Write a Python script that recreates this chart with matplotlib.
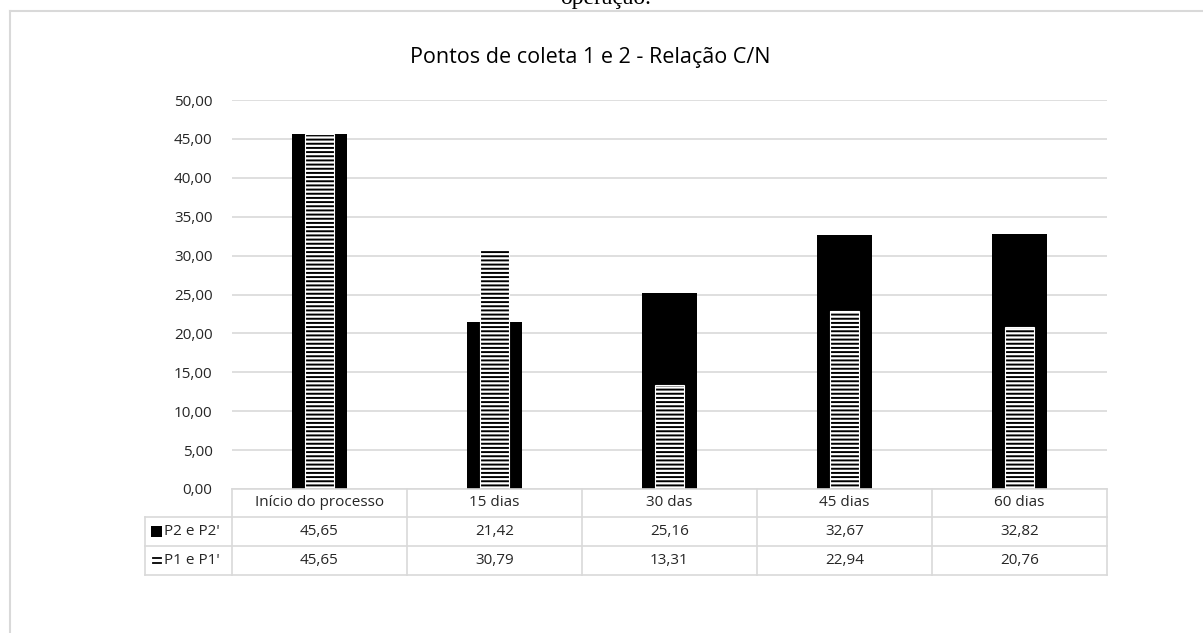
import matplotlib as mpl
import matplotlib.pyplot as plt
from matplotlib.patches import Rectangle
from matplotlib.lines import Line2D
import numpy as np

categorias = ['Início do processo', '15 dias', '30 das', '45 dias', '60 dias']
p2 = [45.65, 21.42, 25.16, 32.67, 32.82]
p1 = [45.65, 30.79, 13.31, 22.94, 20.76]
serie_p2 = "P2 e P2'"
serie_p1 = "P1 e P1'"
titulo = 'Pontos de coleta 1 e 2 - Relação C/N'
yticks = np.arange(0, 51, 5)

plt.rcParams['font.family'] = ['Open Sans', 'DejaVu Sans']
plt.rcParams['hatch.linewidth'] = 1.4
W, H = 1203, 633
GRID = '#d9d9d9'
TXT = '#262626'
FS = 11

fig = plt.figure(figsize=(W / 100, H / 100), dpi=100)

def fx(px):
  return px / W

def fy(py):
  return 1 - py / H

# axes: x 232..1107, y 100..489
ax = fig.add_axes([fx(232), fy(489), fx(1107) - fx(232), fy(100) - fy(489)])
x = np.arange(len(categorias))
ax.bar(x, p2, width=0.31, color='black', zorder=2)
ax.bar(x, p1, width=0.17, color='white', edgecolor='black', linewidth=0,
       hatch='----', zorder=3)
ax.bar(x, p1, width=0.17, fill=False, edgecolor='white', linewidth=0.8, zorder=4)

ax.set_xlim(-0.5, len(categorias) - 0.5)
ax.set_ylim(0, 50)
ax.set_yticks(yticks)
ax.set_yticklabels([f'{v:.2f}'.replace('.', ',') for v in yticks], color=TXT, fontsize=FS)
ax.set_xticks([])
ax.tick_params(axis='y', length=0, pad=14)
ax.grid(axis='y', color=GRID, linewidth=1.2, zorder=0)
for s in ax.spines.values():
  s.set_visible(False)

# outer chart frame and caption remnant
fig.add_artist(Line2D([fx(10), 1], [fy(11), fy(11)], color=GRID, lw=1.5))
fig.add_artist(Line2D([fx(10), fx(10)], [fy(11), 0], color=GRID, lw=1.5))
fig.text(0.503, fy(9), 'operação.', family='Liberation Serif', fontsize=17,
         ha='center', va='bottom', color='black')

fig.text(fx(590), fy(58), titulo, ha='center', va='center', fontsize=15.5, color='black')

# data table
rows = [489, 517, 546, 575]
bounds = [232 + 175 * i for i in range(len(categorias) + 1)]
for r in rows:
  x0 = 232 if r == 489 else 145
  fig.add_artist(Line2D([fx(x0), fx(1107)], [fy(r), fy(r)], color=GRID, lw=1.2))
for b in bounds:
  fig.add_artist(Line2D([fx(b), fx(b)], [fy(489), fy(575)], color=GRID, lw=1.2))
fig.add_artist(Line2D([fx(145), fx(145)], [fy(517), fy(575)], color=GRID, lw=1.2))

for i, cat in enumerate(categorias):
  cx = fx(bounds[i] + 87.5)
  fig.text(cx, fy(503), cat, ha='center', va='center', fontsize=FS, color=TXT)
  fig.text(cx, fy(531.5), f'{p2[i]:.2f}'.replace('.', ','), ha='center', va='center',
           fontsize=FS, color=TXT)
  fig.text(cx, fy(560.5), f'{p1[i]:.2f}'.replace('.', ','), ha='center', va='center',
           fontsize=FS, color=TXT)

# legend keys: solid square and a small striped ("=") key
fig.add_artist(Rectangle((fx(151), fy(537)), fx(11), fy(526) - fy(537),
                         facecolor='black', edgecolor='none'))
for yy in (558, 563):
  fig.add_artist(Line2D([fx(153), fx(161)], [fy(yy), fy(yy)], color='black', lw=1.3))
fig.text(fx(164), fy(531.5), serie_p2, ha='left', va='center', fontsize=FS, color=TXT)
fig.text(fx(164), fy(560.5), serie_p1, ha='left', va='center', fontsize=FS, color=TXT)

fig.savefig('out.png', dpi=100, facecolor='white')
